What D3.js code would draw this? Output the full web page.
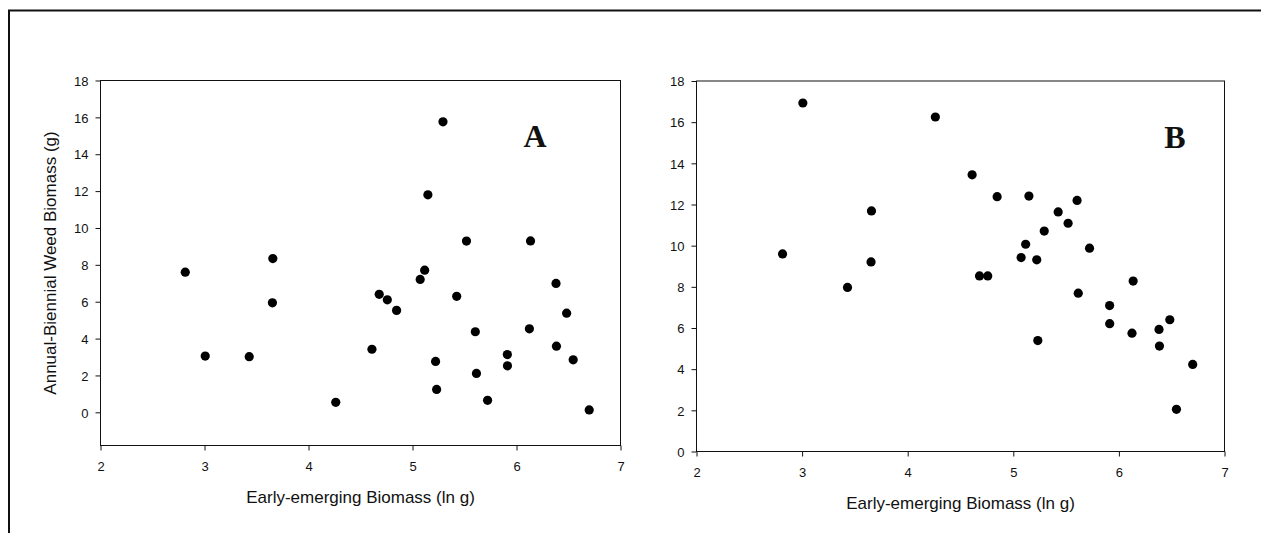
<!DOCTYPE html>
<html>
<head>
<meta charset="utf-8">
<script src="https://cdn.jsdelivr.net/npm/d3@7/dist/d3.min.js"></script>
<style>
  html, body { margin: 0; padding: 0; background: #fff; }
  svg { display: block; }
  .tick text { font-family: "Liberation Sans", Arial, sans-serif; font-size: 13px; fill: #111; }
  .tick line, .domain { stroke: #111; }
</style>
</head>
<body>
<svg id="chart" width="1261" height="533"></svg>
<script>
// Early-emerging biomass (ln g), shared by both panels
const earlyBiomass = [2.815, 3.007, 3.430, 3.657, 3.653, 4.262, 4.610, 4.680, 4.758, 4.847,
                      5.074, 5.117, 5.148, 5.293, 5.222, 5.232, 5.425, 5.519, 5.604, 5.615,
                      5.722, 5.912, 5.913, 6.124, 6.135, 6.380, 6.384, 6.482, 6.545, 6.699];
// Panel A: annual-biennial weed biomass (g)
const weedA = [7.60, 3.05, 3.02, 8.34, 5.94, 0.54, 3.42, 6.40, 6.10, 5.53,
               7.21, 7.71, 11.80, 15.76, 2.76, 1.24, 6.29, 9.29, 4.37, 2.11,
               0.65, 3.13, 2.52, 4.53, 9.30, 6.99, 3.59, 5.38, 2.85, 0.13];
// Panel B
const weedB = [9.60, 16.93, 7.97, 11.69, 9.21, 16.25, 13.44, 8.53, 8.53, 12.38,
               9.42, 10.07, 12.41, 10.71, 9.31, 5.39, 11.64, 11.09, 12.20, 7.69,
               9.88, 7.09, 6.21, 5.75, 8.28, 5.93, 5.12, 6.40, 2.05, 4.23];
const xTicks = [2, 3, 4, 5, 6, 7];
const yTicks = [0, 2, 4, 6, 8, 10, 12, 14, 16, 18];
const xTitle = "Early-emerging Biomass (ln g)";
const yTitle = "Annual-Biennial Weed Biomass (g)";

const svg = d3.select("#chart");

// outer frame around the figure
svg.append("rect")
  .attr("x", 9).attr("y", 10.5)
  .attr("width", 1400).attr("height", 700)
  .attr("fill", "none").attr("stroke", "#111").attr("stroke-width", 2);

const panels = [
  { label: "A", values: weedA, yDomain: [-1.8, 18], x0: 100.5, x1: 620.5, y0: 445.5, y1: 80.5,
    labelX: 535, labelY: 147, showYTitle: true },
  { label: "B", values: weedB, yDomain: [0, 18], x0: 696.5, x1: 1224.5, y0: 451.5, y1: 81,
    labelX: 1175, labelY: 147.5, showYTitle: false }
];

panels.forEach(p => {
  const x = d3.scaleLinear().domain([2, 7]).range([p.x0, p.x1]);
  const y = d3.scaleLinear().domain(p.yDomain).range([p.y0, p.y1]);
  const g = svg.append("g");

  // plot box
  g.append("rect")
    .attr("x", p.x0).attr("y", p.y1)
    .attr("width", p.x1 - p.x0).attr("height", p.y0 - p.y1)
    .attr("fill", "none").attr("stroke", "#111").attr("stroke-width", 1);

  g.append("g")
    .attr("transform", `translate(0,${p.y0})`)
    .call(d3.axisBottom(x).tickValues(xTicks).tickFormat(d3.format("d"))
      .tickSize(5).tickSizeOuter(0).tickPadding(11))
    .call(a => a.select(".domain").remove());

  g.append("g")
    .attr("transform", `translate(${p.x0},0)`)
    .call(d3.axisLeft(y).tickValues(yTicks).tickFormat(d3.format("d"))
      .tickSize(5).tickSizeOuter(0).tickPadding(7))
    .call(a => a.select(".domain").remove())
    .selectAll(".tick text").attr("dy", "0.36em");

  g.selectAll("circle")
    .data(earlyBiomass.map((v, i) => [v, p.values[i]]))
    .join("circle")
    .attr("cx", d => x(d[0]))
    .attr("cy", d => y(d[1]))
    .attr("r", 4.6)
    .attr("fill", "#000");

  g.append("text")
    .attr("x", p.labelX).attr("y", p.labelY)
    .attr("text-anchor", "middle")
    .style("font-family", "'Liberation Serif', 'Times New Roman', serif")
    .style("font-weight", "bold")
    .style("font-size", "32px")
    .attr("fill", "#111")
    .text(p.label);

  g.append("text")
    .attr("x", (p.x0 + p.x1) / 2).attr("y", p.y0 + 57.5)
    .attr("text-anchor", "middle")
    .style("font-family", "'Liberation Sans', Arial, sans-serif")
    .style("font-size", "17px")
    .attr("fill", "#111")
    .text(xTitle);

  if (p.showYTitle) {
    g.append("text")
      .attr("transform", `translate(55.5,${(p.y0 + p.y1) / 2}) rotate(-90)`)
      .attr("text-anchor", "middle")
      .style("font-family", "'Liberation Sans', Arial, sans-serif")
      .style("font-size", "17px")
      .attr("fill", "#111")
      .text(yTitle);
  }
});
</script>
</body>
</html>
